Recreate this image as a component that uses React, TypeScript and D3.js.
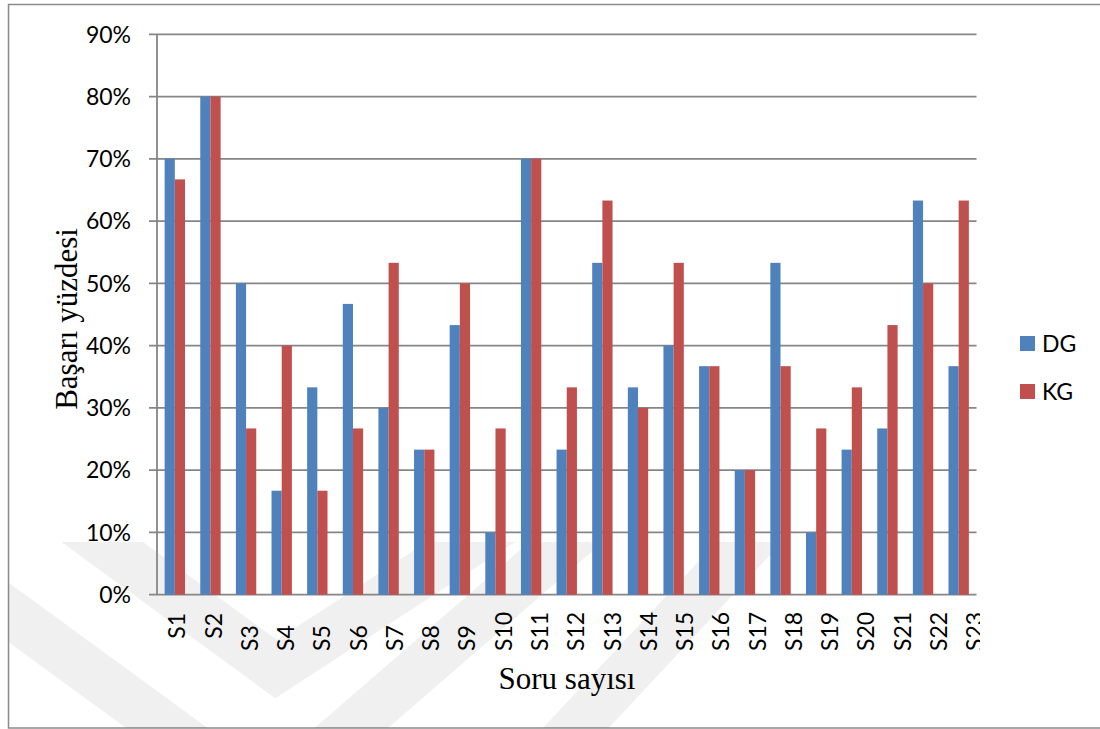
import React from "react";
import * as d3 from "d3";

// Question labels on the category axis
const categories = [
  "S1", "S2", "S3", "S4", "S5", "S6", "S7", "S8", "S9", "S10", "S11", "S12",
  "S13", "S14", "S15", "S16", "S17", "S18", "S19", "S20", "S21", "S22", "S23",
];

// Success rates per question (share of students answering correctly)
const dgValues = [
  0.7, 0.8, 0.5, 0.167, 0.333, 0.467, 0.3, 0.233, 0.433, 0.1, 0.7, 0.233,
  0.533, 0.333, 0.4, 0.367, 0.2, 0.533, 0.1, 0.233, 0.267, 0.633, 0.367,
];
const kgValues = [
  0.667, 0.8, 0.267, 0.4, 0.167, 0.267, 0.533, 0.233, 0.5, 0.267, 0.7, 0.333,
  0.633, 0.3, 0.533, 0.367, 0.2, 0.367, 0.267, 0.333, 0.433, 0.5, 0.633,
];

const seriesNames = ["DG", "KG"];
const seriesColors = ["#4F81BD", "#C0504D"];
const yTicks = [0, 0.1, 0.2, 0.3, 0.4, 0.5, 0.6, 0.7, 0.8, 0.9];

const yTitle = "Başarı yüzdesi";
const xTitle = "Soru sayısı";

const W = 1100;
const H = 729;
const plot = { left: 157, right: 976.5, top: 34.3, bottom: 594.7 };
const gridColor = "#868686";
const labelFont = "Lato, 'Liberation Sans', sans-serif";
const titleFont = "'Liberation Serif', 'Times New Roman', serif";
const labelSize = 23;

export default function App() {
  const x = d3
    .scaleBand<string>()
    .domain(categories)
    .range([plot.left, plot.right])
    .paddingInner(1.5 / 3.5)
    .paddingOuter(0.75 / 3.5);
  const inner = d3
    .scaleBand<string>()
    .domain(seriesNames)
    .range([0, x.bandwidth()]);
  const y = d3.scaleLinear().domain([0, 0.9]).range([plot.bottom, plot.top]);
  // category labels are laid out on their own, slightly wider, spacing
  const xLabel = d3.scalePoint<string>().domain(categories).range([177, 975]);
  const fmt = d3.format(".0%");

  const series = [dgValues, kgValues];

  // faint chevron watermark behind the chart
  const wmLine = d3.line();
  const watermark = [
    [[20, 482], [276, 669], [540, 497]],
    [[-40, 577], [267, 801], [580, 530]],
    [[560, 745], [770, 520]],
  ] as [number, number][][];

  return (
    <svg
      width={W}
      height={H}
      style={{ position: "absolute", left: 0, top: 0, background: "#fff" }}
    >
      <defs>
        <clipPath id="wm-clip">
          <rect x={9} y={542} width={W} height={186} />
        </clipPath>
        <clipPath id="xlab-clip">
          <rect x={0} y={0} width={980} height={H} />
        </clipPath>
      </defs>

      {/* chart frame */}
      <rect
        x={8.5}
        y={4.5}
        width={W + 20}
        height={723.5}
        fill="#fff"
        stroke="#8a8a8a"
        strokeWidth={1.5}
      />

      <g clipPath="url(#wm-clip)" opacity={0.055}>
        {watermark.map((pts, i) => (
          <path
            key={i}
            d={wmLine(pts) || ""}
            fill="none"
            stroke="#000"
            strokeWidth={48}
            strokeLinejoin="miter"
          />
        ))}
      </g>

      {/* horizontal gridlines with tick marks */}
      {yTicks.map((t) => (
        <line
          key={t}
          x1={plot.left - 8}
          x2={plot.right}
          y1={y(t)}
          y2={y(t)}
          stroke={gridColor}
          strokeWidth={1.8}
        />
      ))}
      <line
        x1={plot.left}
        x2={plot.left}
        y1={plot.top}
        y2={plot.bottom}
        stroke={gridColor}
        strokeWidth={1.8}
      />

      {/* bars */}
      {categories.map((c, i) => (
        <g key={c} transform={`translate(${x(c)},0)`}>
          {seriesNames.map((s, k) => {
            const v = series[k][i];
            return (
              <rect
                key={s}
                x={inner(s)}
                y={y(v)}
                width={inner.bandwidth()}
                height={y(0) - y(v)}
                fill={seriesColors[k]}
              />
            );
          })}
        </g>
      ))}

      {/* y tick labels */}
      {yTicks.map((t) => (
        <text
          key={t}
          x={131}
          y={y(t)}
          dy="0.36em"
          textAnchor="end"
          fontFamily={labelFont}
          fontSize={labelSize}
          fill="#000"
        >
          {fmt(t)}
        </text>
      ))}

      {/* x tick labels, rotated */}
      <g clipPath="url(#xlab-clip)">
        {categories.map((c, i) => {
          const cx = xLabel(c) as number;
          const flushTop = i < 2;
          const yy = flushTop ? 613 : 651;
          return (
            <text
              key={c}
              transform={`translate(${cx},${yy}) rotate(-90)`}
              dy="0.36em"
              textAnchor={flushTop ? "end" : "start"}
              fontFamily={labelFont}
              fontSize={labelSize}
              fill="#000"
            >
              {c}
            </text>
          );
        })}
      </g>

      {/* axis titles */}
      <text
        transform={`translate(77,319) rotate(-90)`}
        textAnchor="middle"
        fontFamily={titleFont}
        fontSize={31}
        fill="#000"
      >
        {yTitle}
      </text>
      <text
        x={567}
        y={689}
        textAnchor="middle"
        fontFamily={titleFont}
        fontSize={31}
        fill="#000"
      >
        {xTitle}
      </text>

      {/* legend */}
      {seriesNames.map((s, k) => (
        <g key={s} transform={`translate(1020,${336 + k * 48})`}>
          <rect width={15} height={15} fill={seriesColors[k]} />
          <text
            x={22}
            y={7.5}
            dy="0.36em"
            fontFamily={labelFont}
            fontSize={labelSize}
            fill="#000"
          >
            {s}
          </text>
        </g>
      ))}
    </svg>
  );
}
